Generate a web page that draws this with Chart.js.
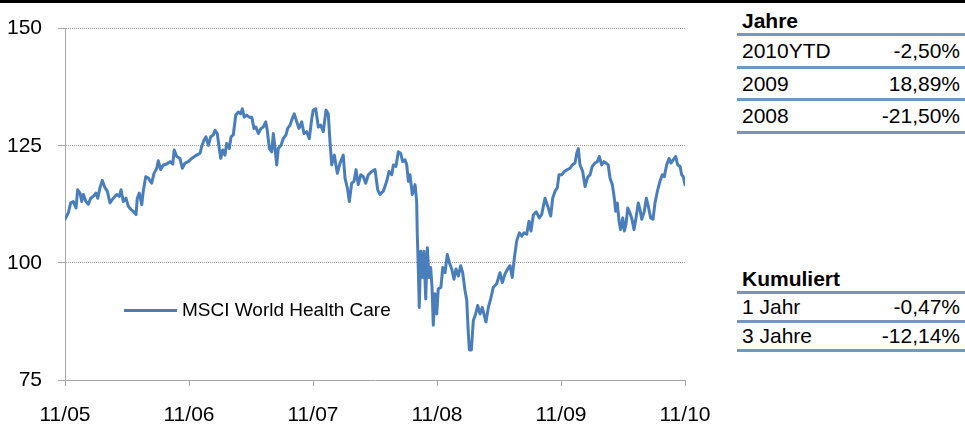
<!DOCTYPE html>
<html>
<head>
<meta charset="utf-8">
<script src="https://cdn.jsdelivr.net/npm/chart.js@4.4.0/dist/chart.umd.min.js"></script>
<style>
    body {
        margin: 0;
        width: 965px;
        height: 429px;
        position: relative;
        overflow: hidden;
        background: #fff;
        font-family: "Liberation Sans", Arial, sans-serif;
        color: #000;
    }
    #topbar { position: absolute; left: 0; top: 0; width: 965px; height: 3px; background: #000; }
    #wrap { position: absolute; left: 0; top: 0; width: 730px; height: 429px; }
    #legend { position: absolute; left: 124px; top: 298px; height: 24px; }
    #legend .swatch { position: absolute; left: 0; top: 11px; width: 53px; height: 3px; background: #4a7ebb; }
    #legend .txt { position: absolute; left: 58px; top: 0; font-size: 19px; line-height: 24px; white-space: nowrap; }
    .tbl { position: absolute; left: 737px; width: 228px; font-size: 21px; }
    .tbl .head { font-weight: bold; padding-left: 5px; height: 24px; line-height: 24px; }
    .tbl .row { border-top: 3px solid #7397bf; display: flex; justify-content: space-between; padding: 0 5px; }
    .tbl .row:last-child { border-bottom: 3px solid #7397bf; }
</style>
</head>
<body>

<div id="topbar"></div>
<div id="wrap"><canvas id="chart" width="730" height="429"></canvas></div>
<div id="legend"><div class="swatch"></div><div class="txt" id="legendText"></div></div>
<div class="tbl" id="tblYears" style="top:9px"></div>
<div class="tbl" id="tblCum" style="top:267px"></div>

<script>

const seriesName = "MSCI World Health Care";

const tickLabels = ["11/05", "11/06", "11/07", "11/08", "11/09", "11/10"];

// years since 11/05
const years = [
    0, 0.027, 0.046, 0.067, 0.089, 0.102, 0.121, 0.135, 0.148, 0.169,
    0.188, 0.207, 0.228, 0.25, 0.264, 0.282, 0.301, 0.323, 0.341, 0.363,
    0.39, 0.417, 0.438, 0.452, 0.47, 0.492, 0.51, 0.532, 0.551, 0.573,
    0.583, 0.599, 0.619, 0.631, 0.651, 0.672, 0.699, 0.718, 0.74, 0.752,
    0.772, 0.793, 0.82, 0.847, 0.869, 0.881, 0.901, 0.927, 0.946, 0.968,
    0.994, 1.022, 1.062, 1.089, 1.102, 1.121, 1.137, 1.156, 1.175, 1.196,
    1.21, 1.228, 1.244, 1.256, 1.272, 1.29, 1.304, 1.325, 1.339, 1.357,
    1.377, 1.398, 1.417, 1.43, 1.446, 1.465, 1.486, 1.506, 1.524, 1.54,
    1.559, 1.581, 1.599, 1.619, 1.631, 1.648, 1.667, 1.68, 1.694, 1.707,
    1.72, 1.742, 1.76, 1.782, 1.796, 1.815, 1.833, 1.849, 1.869, 1.887,
    1.909, 1.927, 1.949, 1.97, 1.99, 2.002, 2.022, 2.043, 2.062, 2.083,
    2.105, 2.123, 2.137, 2.151, 2.172, 2.196, 2.218, 2.244, 2.258, 2.277,
    2.293, 2.312, 2.331, 2.347, 2.365, 2.385, 2.406, 2.425, 2.446, 2.473,
    2.5, 2.522, 2.54, 2.567, 2.594, 2.613, 2.635, 2.648, 2.669, 2.688,
    2.707, 2.723, 2.742, 2.756, 2.769, 2.782, 2.801, 2.823, 2.836, 2.841,
    2.849, 2.857, 2.869, 2.885, 2.895, 2.909, 2.922, 2.935, 2.949, 2.96,
    2.97, 2.984, 2.998, 3.01, 3.032, 3.046, 3.065, 3.083, 3.099, 3.119,
    3.137, 3.153, 3.172, 3.191, 3.207, 3.226, 3.24, 3.25, 3.261, 3.277,
    3.293, 3.312, 3.328, 3.347, 3.365, 3.381, 3.395, 3.414, 3.433, 3.454,
    3.481, 3.508, 3.527, 3.548, 3.57, 3.589, 3.607, 3.624, 3.643, 3.664,
    3.683, 3.702, 3.723, 3.742, 3.758, 3.777, 3.8, 3.825, 3.844, 3.871,
    3.893, 3.917, 3.933, 3.952, 3.97, 3.984, 4.006, 4.027, 4.051, 4.073,
    4.091, 4.113, 4.127, 4.14, 4.153, 4.175, 4.194, 4.214, 4.234, 4.252,
    4.274, 4.293, 4.309, 4.328, 4.347, 4.363, 4.381, 4.395, 4.414, 4.43,
    4.441, 4.454, 4.468, 4.481, 4.498, 4.511, 4.524, 4.538, 4.551, 4.57,
    4.589, 4.605, 4.623, 4.637, 4.651, 4.672, 4.688, 4.704, 4.723, 4.742,
    4.758, 4.78, 4.798, 4.817, 4.833, 4.852, 4.871, 4.887, 4.905, 4.925,
    4.941, 4.96, 4.973, 4.986, 5
];

const msci = [
    109.3, 110.7, 112.8, 113.1, 111.7, 115.6, 114.9, 113.1, 114.6, 113.1,
    112.5, 113.8, 114.2, 114.9, 113.8, 116.0, 117.6, 116.0, 115.3, 112.8,
    113.8, 114.6, 114.2, 115.6, 113.1, 113.8, 112.1, 111.4, 111.0, 110.3,
    113.8, 114.9, 112.4, 115.3, 118.4, 118.1, 117.0, 119.1, 120.2, 121.8,
    119.9, 120.9, 121.1, 121.6, 121.1, 124.1, 122.7, 122.3, 120.2, 121.3,
    121.6, 122.3, 123.0, 123.4, 124.8, 126.2, 126.9, 125.1, 126.9, 127.3,
    128.3, 127.6, 124.4, 122.3, 124.1, 123.0, 125.5, 124.4, 126.9, 127.3,
    131.5, 132.2, 131.8, 132.9, 131.1, 131.5, 131.1, 131.1, 128.7, 129.0,
    127.6, 128.7, 129.0, 130.1, 128.3, 124.4, 123.7, 127.6, 124.4, 120.9,
    124.4, 125.1, 126.5, 127.3, 128.7, 129.4, 130.8, 131.8, 130.1, 128.7,
    130.1, 127.6, 128.0, 126.5, 130.8, 132.6, 132.9, 129.0, 129.4, 128.0,
    132.6, 131.8, 125.9, 120.9, 123.0, 119.1, 121.3, 123.0, 118.1, 116.0,
    113.1, 117.0, 117.4, 119.9, 116.7, 118.8, 118.4, 117.0, 118.8, 119.5,
    119.9, 115.6, 114.6, 115.3, 117.4, 119.5, 118.8, 120.9, 120.6, 123.7,
    123.4, 121.6, 122.0, 120.9, 117.4, 118.8, 114.6, 116.7, 113.1, 106.1,
    99.0, 90.5, 102.5, 96.9, 102.5, 92.3, 103.2, 96.9, 99.0, 94.8,
    86.7, 93.4, 89.1, 94.4, 94.8, 99.0, 97.9, 101.8, 100.1, 98.7,
    96.5, 98.7, 97.2, 99.4, 97.9, 94.1, 92.0, 86.3, 81.4, 81.4,
    87.7, 89.1, 90.9, 89.1, 90.5, 88.8, 87.4, 90.5, 92.3, 94.8,
    95.5, 97.9, 95.8, 97.6, 98.7, 99.4, 96.9, 101.1, 104.7, 106.4,
    105.7, 106.4, 106.1, 108.9, 106.8, 110.2, 110.9, 109.6, 110.3, 113.8,
    112.1, 110.0, 113.8, 115.3, 116.0, 118.8, 118.8, 119.5, 119.9, 120.2,
    120.9, 121.3, 123.4, 124.4, 120.9, 119.5, 116.3, 118.2, 118.8, 120.6,
    121.3, 121.6, 122.7, 120.9, 121.6, 121.3, 120.9, 118.1, 116.7, 113.8,
    111.0, 112.8, 108.9, 107.1, 109.6, 106.8, 108.2, 111.7, 111.0, 109.6,
    107.1, 109.6, 112.8, 111.4, 109.3, 111.0, 113.8, 112.1, 109.6, 109.3,
    112.8, 115.6, 117.4, 118.8, 118.4, 120.9, 122.3, 121.3, 122.0, 122.7,
    120.9, 120.6, 118.8, 118.4, 116.7
];

const yearRows = ["2010YTD", "2009", "2008"];
const yearPerf = ["-2,50%", "18,89%", "-21,50%"];

const cumRows = ["1 Jahr", "3 Jahre"];
const cumPerf = ["-0,47%", "-12,14%"];


function fillTable(id, title, labels, values, rowHeight) {

    const box = document.getElementById(id);

    let html = `<div class="head">${title}</div>`;

    labels.forEach((label, i) => {
        html += `<div class="row" style="height:${rowHeight}px;line-height:${rowHeight}px">
                    <span>${label}</span><span>${values[i]}</span>
                 </div>`;
    });

    box.innerHTML = html;

}

fillTable("tblYears", "Jahre", yearRows, yearPerf, 29.5);
fillTable("tblCum", "Kumuliert", cumRows, cumPerf, 26.2);

document.getElementById("legendText").textContent = seriesName;


const axisGrey = "#a6a6a6";

const ctx = document.getElementById("chart").getContext("2d");

new Chart(ctx, {

    type: "line",

    data: {
        datasets: [{
            label: seriesName,
            data: years.map((t, i) => ({ x: t, y: msci[i] })),
            borderColor: "#4a7ebb",
            borderWidth: 3,
            borderJoinStyle: "round",
            borderCapStyle: "round",
            pointRadius: 0,
            tension: 0,
            fill: false
        }]
    },

    options: {

        responsive: false,
        animation: false,

        layout: {
            padding: { top: 26, right: 45, bottom: 0, left: 0 }
        },

        plugins: {
            legend: { display: false },
            tooltip: { enabled: false }
        },

        scales: {

            x: {
                type: "linear",
                min: 0,
                max: 5,
                afterFit: (scale) => { scale.height = 49; },
                ticks: {
                    stepSize: 1,
                    autoSkip: false,
                    maxRotation: 0,
                    padding: 17,
                    color: "#000",
                    font: { family: "'Liberation Sans', Arial, sans-serif", size: 21 },
                    callback: (v) => tickLabels[v]
                },
                grid: {
                    drawOnChartArea: false,
                    drawTicks: true,
                    tickLength: 6,
                    tickColor: axisGrey
                },
                border: { color: axisGrey, width: 1 }
            },

            y: {
                min: 75,
                max: 150,
                afterFit: (scale) => { scale.width = 65; },
                ticks: {
                    stepSize: 25,
                    padding: 16,
                    color: "#000",
                    font: { family: "'Liberation Sans', Arial, sans-serif", size: 21 }
                },
                grid: {
                    color: "#9a9a9a",
                    tickLength: 7,
                    tickColor: axisGrey,
                    tickBorderDash: []
                },
                border: { color: axisGrey, width: 1, dash: [1, 1] }
            }

        }

    }

});

</script>
</body>
</html>
